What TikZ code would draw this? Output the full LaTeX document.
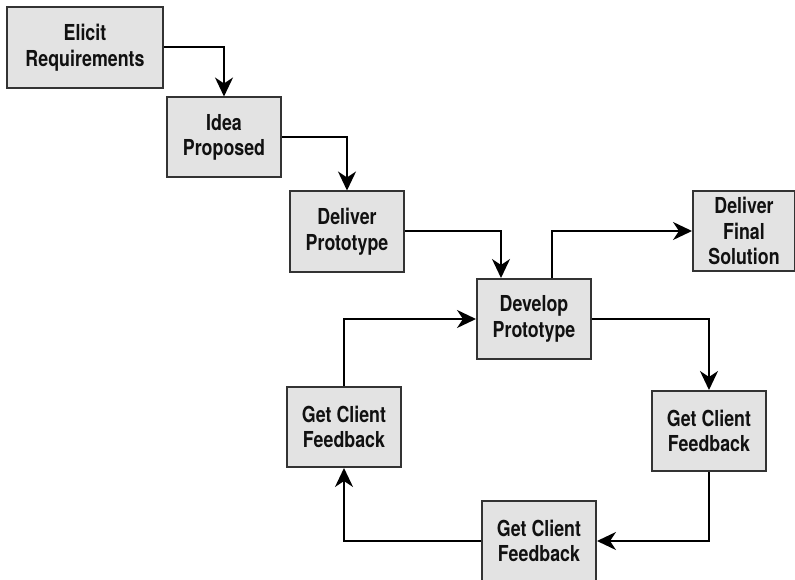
\documentclass[tikz,border=0pt]{standalone}
\usepackage{fontspec}
\setmainfont{TeX Gyre Heros}[FakeStretch=0.81]
\usepackage{tikz}
\usetikzlibrary{arrows.meta,positioning}
\definecolor{cbox}{HTML}{E3E3E3}
\definecolor{cline}{HTML}{333333}
\definecolor{ctext}{HTML}{111111}
\tikzset{
  stepbox/.style={draw=cline, fill=cbox, line width=2pt, minimum width=114pt, minimum height=80pt,
    inner sep=2pt, align=center, text=ctext, font=\fontsize{22}{25.5}\selectfont\bfseries},
  widebox/.style={stepbox, minimum width=156pt, minimum height=81pt},
  pre/.style={-{Stealth[length=19pt, width=18pt, inset=6pt]}, line width=2pt, draw=black},
}
\begin{document}
\begin{tikzpicture}[x=1pt,y=-1pt]
\useasboundingbox (0,0) rectangle (795,580);
\node[widebox] (elicit) at (85,47.5) {Elicit\\Requirements};
\node[stepbox] (idea) at (224,137.5) {Idea\\Proposed};
\node[stepbox] (deliver) at (347,231.5) {Deliver\\Prototype};
\node[stepbox] (develop) at (534,319) {Develop\\Prototype};
\node[stepbox, minimum width=102pt] (final) at (744,231) {Deliver\\Final\\Solution};
\node[stepbox] (fbright) at (709,431) {Get Client\\Feedback};
\node[stepbox] (fbbottom) at (539,541) {Get Client\\Feedback};
\node[stepbox] (fbleft) at (344,427) {Get Client\\Feedback};
\draw[pre] (elicit.east) -| (idea.north);
\draw[pre] (idea.east) -| (deliver.north);
\draw[pre] (deliver.east) -| ([xshift=25pt]develop.north west);
\draw[pre] ([xshift=18pt]develop.north) |- (final.west);
\draw[pre] (develop.east) -| (fbright.north);
\draw[pre] (fbright.south) |- (fbbottom.east);
\draw[pre] (fbbottom.west) -| (fbleft.south);
\draw[pre] (fbleft.north) |- (develop.west);
\end{tikzpicture}
\end{document}
